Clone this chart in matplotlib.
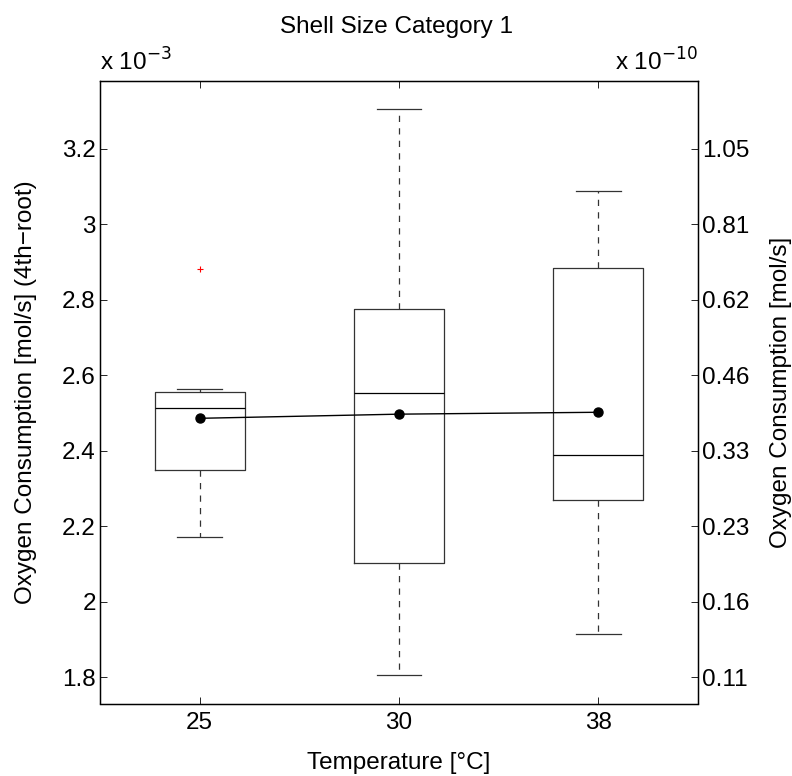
import numpy as np
import matplotlib
matplotlib.use("Agg")
import matplotlib.pyplot as plt

plt.rcParams['font.family'] = ['Liberation Sans', 'DejaVu Sans']

# data (left axis values are x 10^-3)
temps = ['25', '30', '38']
whislo = [2.172, 1.806, 1.914]
q1 = [2.348, 2.104, 2.270]
med = [2.512, 2.552, 2.388]
q3 = [2.555, 2.775, 2.885]
whishi = [2.563, 3.304, 3.088]
fliers = [[2.881], [], []]
means = [2.486, 2.497, 2.502]

yticks = [1.8, 2.0, 2.2, 2.4, 2.6, 2.8, 3.0, 3.2]
yticklabels = ['1.8', '2', '2.2', '2.4', '2.6', '2.8', '3', '3.2']
rticklabels = ['0.11', '0.16', '0.23', '0.33', '0.46', '0.62', '0.81', '1.05']

fs = 17.5

fig = plt.figure(figsize=(7.92, 7.76), dpi=100)
ax = fig.add_axes([100/792, 72.5/776, 598/792, 622.5/776])

stats = []
for i in range(len(temps)):
    stats.append({'whislo': whislo[i], 'q1': q1[i], 'med': med[i], 'q3': q3[i],
                  'whishi': whishi[i], 'fliers': fliers[i], 'label': temps[i]})

pos = np.arange(1, len(temps) + 1)
ax.bxp(stats, positions=pos, widths=0.45, showfliers=True,
       boxprops=dict(color='#333333', lw=0.9),
       medianprops=dict(color='black', lw=0.9),
       whiskerprops=dict(color='#333333', lw=0.9, linestyle=(0, (5, 5))),
       capprops=dict(color='#333333', lw=0.9),
       flierprops=dict(marker='+', markeredgecolor='red', markersize=5, markeredgewidth=0.8))

ax.plot(pos, means, color='black', lw=1.0, marker='o', markersize=6.5)

ax.set_xlim(0.5, 3.5)
ax.set_ylim(1.731, 3.379)
ax.set_xticks(pos)
ax.set_xticklabels(temps)
ax.set_yticks(yticks)
ax.set_yticklabels(yticklabels)
ax.tick_params(direction='in', length=5, width=0.6, labelsize=fs, pad=3, top=True)
ax.tick_params(axis='x', pad=6)
for s in ax.spines.values():
    s.set_linewidth(1.0)

ax2 = ax.twinx()
ax2.set_ylim(ax.get_ylim())
ax2.set_yticks(yticks)
ax2.set_yticklabels(rticklabels)
ax2.tick_params(direction='in', length=5, width=0.6, labelsize=fs, pad=3)

ax.set_ylabel('Oxygen Consumption [mol/s] (4th\u2212root)', fontsize=fs)
ax.yaxis.set_label_coords(-0.105, 0.5)
ax2.set_ylabel('Oxygen Consumption [mol/s]', fontsize=fs)
ax2.yaxis.set_label_coords(1.12, 0.5)
ax.set_xlabel('Temperature [\u00b0C]', fontsize=fs)
ax.xaxis.set_label_coords(0.5, -0.078)

fig.text(0.5, 1 - 27/776, 'Shell Size Category 1', ha='center', va='center', fontsize=fs)
ax.text(0, 1.008, r'x 10$^{-3}$', transform=ax.transAxes, ha='left', va='bottom', fontsize=fs)
ax.text(1, 1.008, r'x 10$^{-10}$', transform=ax.transAxes, ha='right', va='bottom', fontsize=fs)

fig.savefig('out.png', dpi=100)
